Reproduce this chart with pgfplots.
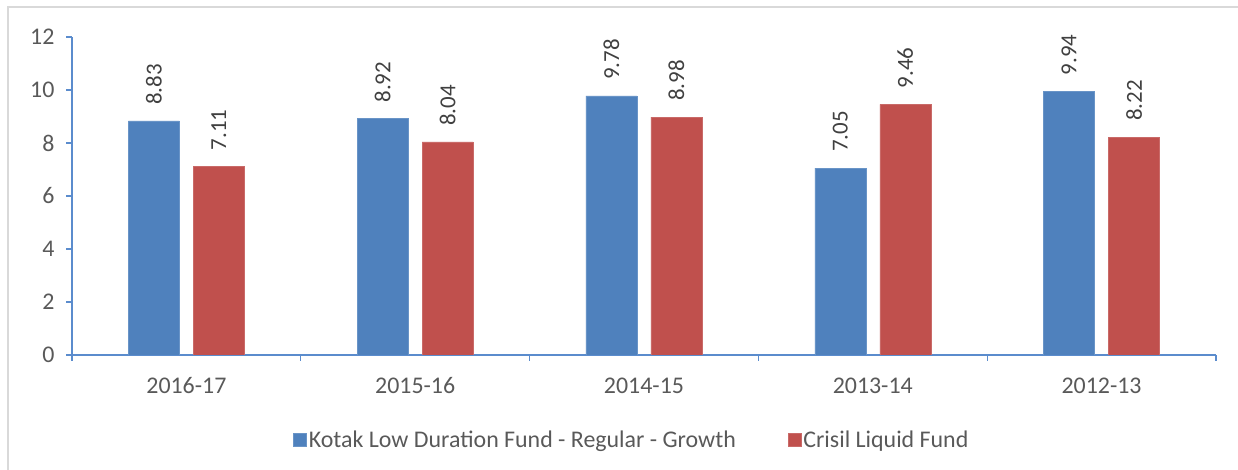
\documentclass[border=0pt]{standalone}
\usepackage{fontspec}
\setmainfont{Carlito}
\usepackage{pgfplots}
\pgfplotsset{compat=1.18}
\definecolor{kblue}{RGB}{79,129,189}
\definecolor{kred}{RGB}{192,80,77}
\definecolor{axisblue}{RGB}{91,140,205}
\definecolor{txt}{RGB}{89,89,89}
\definecolor{lbl}{RGB}{64,64,64}
\begin{document}
\begin{tikzpicture}[x=1bp,y=1bp]
\useasboundingbox (0,0) rectangle (1238,470);
\draw[black!15, line width=1.5bp] (8,0) -- (8,463) -- (1238,463);
\begin{axis}[
  at={(72bp,115bp)}, anchor=south west,
  scale only axis, width=1144bp, height=318bp,
  ymin=0, ymax=12, ytick={0,2,...,12},
  xmin=-0.5, xmax=4.5,
  xtick={-0.5,0.5,...,4.5},
  xticklabels={2016-17,2015-16,2014-15,2013-14,2012-13},
  x tick label as interval,
  axis x line*=bottom, axis y line*=left,
  axis line style={axisblue, line width=1.2bp, -},
  tick style={axisblue, line width=1.2bp},
  tick align=outside, major tick length=6bp,
  /pgf/number format/assume math mode=true,
  tick label style={font=\fontsize{24}{28}\selectfont, text=txt},
  yticklabel style={xshift=-8bp},
  xticklabel style={yshift=-13bp},
  ybar=14bp, bar width=51bp,
  nodes near coords={\pgfmathprintnumber[fixed,fixed zerofill,precision=2,assume math mode=true]{\pgfplotspointmeta}},
  every node near coord/.append style={rotate=90, anchor=west, inner xsep=16bp, font=\fontsize{23}{27}\selectfont, text=lbl},
  legend style={at={(0.4895,-0.2657)}, anchor=center, draw=none, fill=none,
    legend columns=2, font=\fontsize{24}{28}\selectfont, text=txt,
    nodes={inner xsep=2bp},
    /tikz/every even column/.style={column sep=50bp}},
  legend image code/.code={\fill[#1] (0bp,-6.5bp) rectangle (13bp,6.5bp);},
]
\addplot[fill=kblue, draw=kblue!85!white] coordinates {(0,8.83)(1,8.92)(2,9.78)(3,7.05)(4,9.94)};
\addplot[fill=kred, draw=kred!85!white] coordinates {(0,7.11)(1,8.04)(2,8.98)(3,9.46)(4,8.22)};
\legend{Kotak Low Duration Fund - Regular - Growth, Crisil Liquid Fund}
\end{axis}
\end{tikzpicture}
\end{document}
